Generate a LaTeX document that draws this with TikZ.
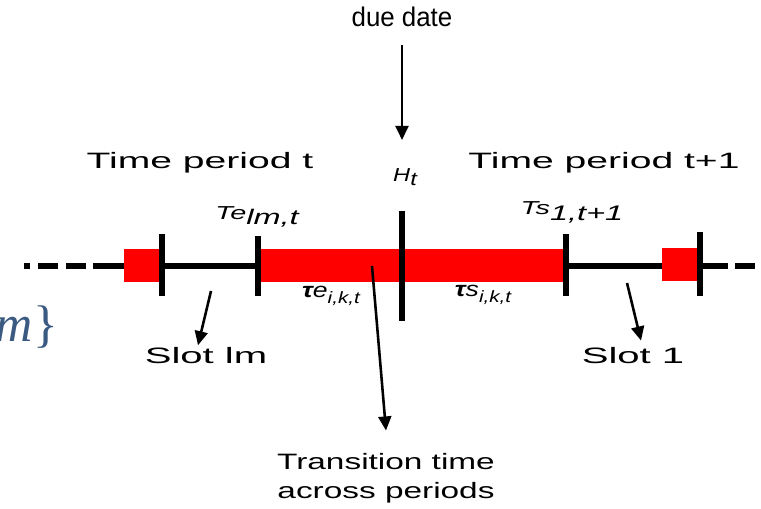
\documentclass[tikz,border=0pt]{standalone}
\usepackage{fontspec}
\setmainfont{Liberation Sans}
\newfontfamily\bracefont{Liberation Serif}
\usetikzlibrary{arrows.meta, positioning}
\definecolor{bracecol}{RGB}{59,90,130}
\definecolor{barred}{RGB}{255,0,0}

\begin{document}
\begin{tikzpicture}[x=0.03cm, y=-0.03cm,
  lbl/.style={font=\fontsize{19}{23}\selectfont, xscale=1.5, inner sep=0pt},
  sym/.style={font=\fontsize{16}{19}\selectfont\itshape, xscale=1.4, inner sep=0pt},
  tick/.style={line width=5pt},
  arr/.style={-{Triangle[length=12pt, width=11pt]}, line width=2.2pt},
]
\useasboundingbox (0,0) rectangle (761,509);

% time line
\draw[line width=5pt] (93,266) -- (728,266);
\draw[line width=5pt, dash pattern=on 17pt off 6.8pt] (86,266) -- (24,266);
\draw[line width=5pt] (735,266) -- (755,266);
\fill[barred] (124,249) rectangle (160,282);
\fill[barred] (258,249) rectangle (565,282);
\fill[barred] (662,248) rectangle (698,281);

% ticks
\draw[tick] (162,234) -- (162,296);
\draw[tick] (258,236) -- (258,296);
\draw[tick] (402,211) -- (402,321);
\draw[tick] (566,234) -- (566,296);
\draw[tick] (700,232) -- (700,296);

% labels
\node[lbl, xscale=0.64, font=\fontsize{23}{27}\selectfont] (due) at (402,17) {due date};
\node[lbl, xscale=1.17] (pert) at (200,163) {Time period t};
\node[lbl, xscale=1.17] (pertnext) at (604,163) {Time period t+1};
\node[sym, xscale=0.9] (ht) at (405,177) {H\raisebox{-0.4ex}{t}};
\node[sym, xscale=1.1] (tend) at (257,217) {Te\raisebox{-0.5ex}{\fontsize{18}{20}\selectfont lm,t}};
\node[sym, xscale=1.1] (tstart) at (572,212) {Ts\raisebox{-0.6ex}{\fontsize{18}{20}\selectfont 1,t+1}};
\node[sym, xscale=0.9, font=\fontsize{18}{21}\selectfont\itshape] (tauend) at (331,296) {\textbf{τ}e\raisebox{-0.5ex}{\fontsize{14}{16}\selectfont i,k,t}};
\node[sym, xscale=0.9, font=\fontsize{18}{21}\selectfont\itshape] (taustart) at (483,295) {\textbf{τ}s\raisebox{-0.5ex}{\fontsize{14}{16}\selectfont i,k,t}};
\node[lbl, xscale=1.2] (slotlm) at (206,356) {Slot lm};
\node[lbl, xscale=1.2] (slotone) at (633,356) {Slot 1};
\node[lbl, align=center, font=\fontsize{19}{25}\selectfont] (trans) at (386,478) {Transition time\\across periods};
\node[anchor=base east, text=bracecol, inner sep=0pt, font=\fontsize{44}{46}\bracefont] (brace) at (58,341) {\textit{m}\}};

% arrows
\coordinate (duetail) at (402,45);
\coordinate (duetip) at (402,140);
\coordinate (slotlmtail) at (211,291);
\coordinate (slotonetail) at (627,283);
\coordinate (transtail) at (372,266);
\draw[arr] (duetail) -- (duetip);
\draw[arr] (slotlmtail) -- ([yshift=2pt]slotlm.north -| 198,0);
\draw[arr] (slotonetail) -- ([yshift=6pt]slotone.north -| 641,0);
\draw[arr] (transtail) -- ([yshift=19pt]trans.north);

\end{tikzpicture}
\end{document}
